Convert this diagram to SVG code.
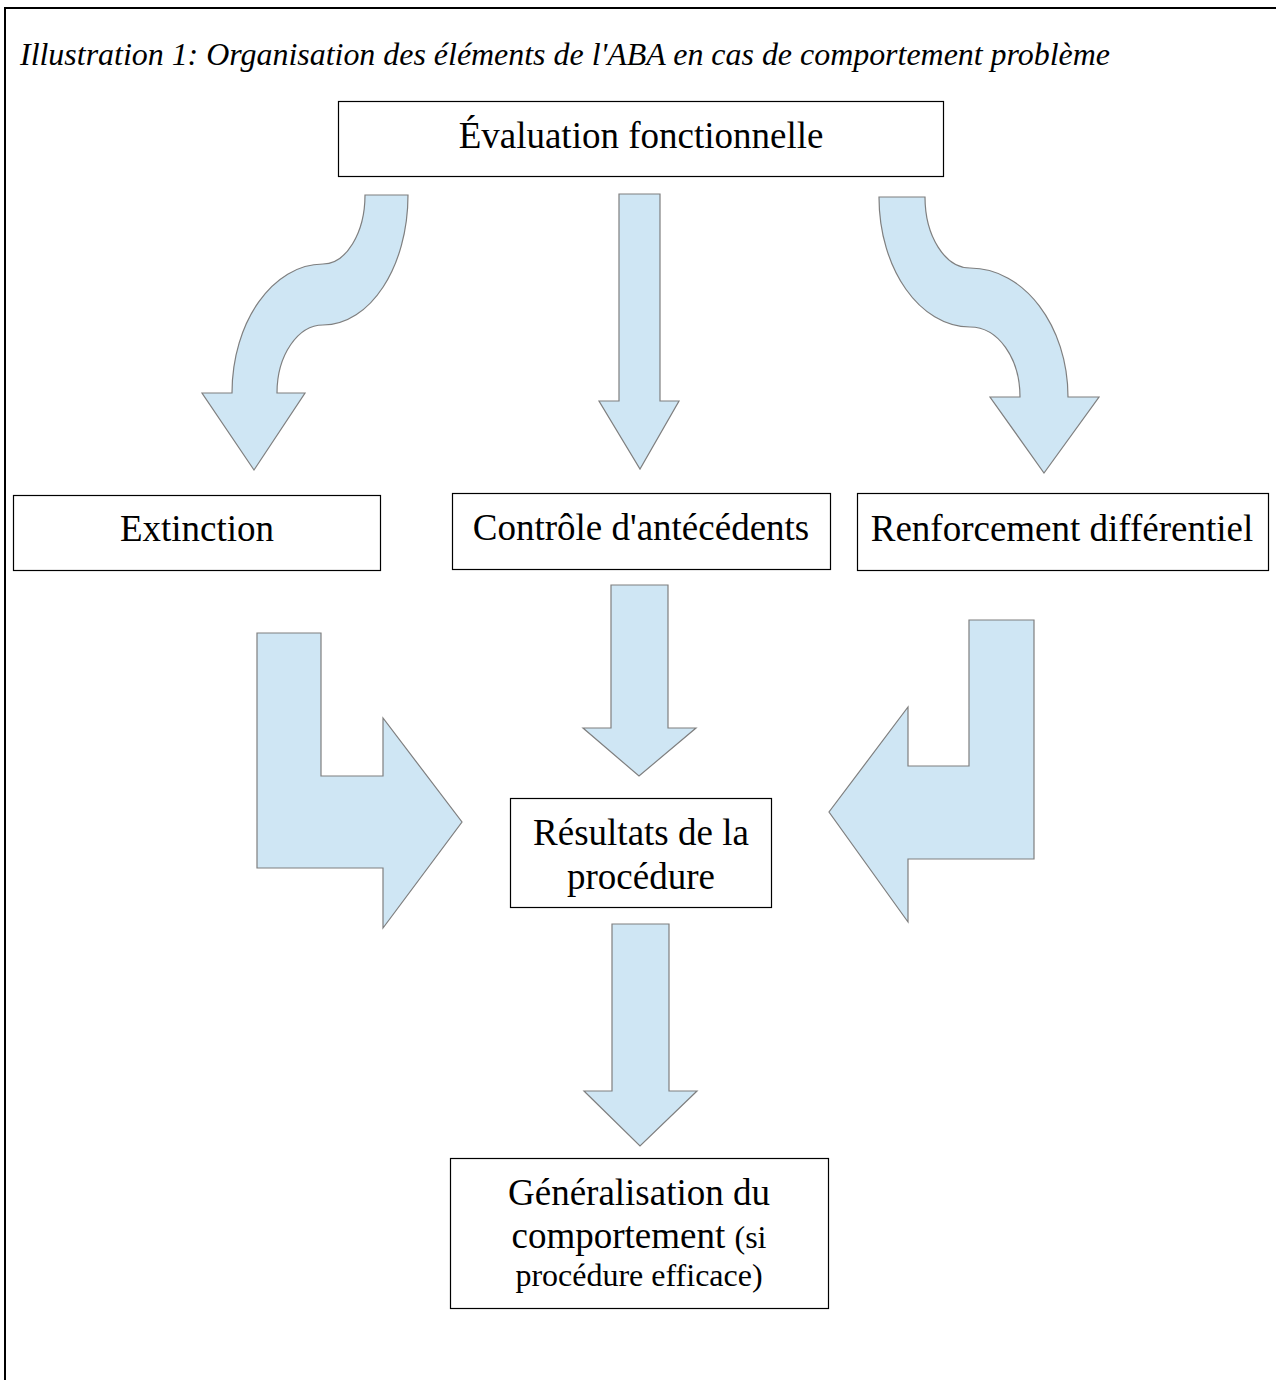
<svg xmlns="http://www.w3.org/2000/svg" width="1276" height="1380" viewBox="0 0 1276 1380">
<style>
.box{fill:#fff;stroke:#000;stroke-width:1.2}
.arrow{fill:#cfe6f4;stroke:#7f7f7f;stroke-width:1.2;stroke-linejoin:miter}
.t{font-family:"Liberation Serif","Times New Roman",serif;font-size:37px;fill:#000;text-anchor:middle}
.s{font-size:32px}
.title{font-family:"Liberation Serif","Times New Roman",serif;font-style:italic;font-size:32px;fill:#000}
</style>
<rect width="1276" height="1380" fill="#fff"/>
<path d="M5,1380 L5,8 L1276,8" fill="none" stroke="#000" stroke-width="2"/>
<text class="title" x="20" y="65" textLength="1090" lengthAdjust="spacingAndGlyphs">Illustration 1: Organisation des éléments de l'ABA en cas de comportement problème</text>

<g id="connectors">
<path class="arrow" d="M365,195 L408,195 C408,267 370,325 323,325 C298,325 277,355 277,393 L305,393 L254,470 L202,393 L232,393 C232,322 273,264 323,264 C346,264 365,233 365,195 Z"/>
<path class="arrow" d="M619,194 L660,194 L660,401 L679,401 L640,469 L599,401 L619,401 Z"/>
<path class="arrow" d="M879,197 L925,197 C925,236 945,268 970,268 C1024,268 1068,326 1068,397 L1099,397 L1044,473 L990,397 L1020,397 C1020,358 998,327 970,327 C920,327 879,269 879,197 Z"/>
<path class="arrow" d="M257,633 L321,633 L321,776 L383,776 L383,718 L462,822 L383,928 L383,868 L257,868 Z"/>
<path class="arrow" d="M611,585 L668,585 L668,728 L696,728 L639,776 L583,728 L611,728 Z"/>
<path class="arrow" d="M969,620 L1034,620 L1034,859 L908,859 L908,922 L829,812 L908,707 L908,766 L969,766 Z"/>
<path class="arrow" d="M612,924 L669,924 L669,1091 L697,1091 L640,1146 L584,1091 L612,1091 Z"/>
</g>

<g id="evaluation">
<rect class="box" x="338.5" y="101.5" width="605" height="75"/>
<text class="t" x="641" y="148">Évaluation fonctionnelle</text>
</g>
<g id="extinction">
<rect class="box" x="13.5" y="495.5" width="367" height="75"/>
<text class="t" x="197" y="541">Extinction</text>
</g>
<g id="controle">
<rect class="box" x="452.5" y="493.5" width="378" height="76"/>
<text class="t" x="641" y="540">Contrôle d'antécédents</text>
</g>
<g id="renforcement">
<rect class="box" x="857.5" y="493.5" width="411" height="77"/>
<text class="t" x="1062" y="541">Renforcement différentiel</text>
</g>
<g id="resultats">
<rect class="box" x="510.5" y="798.5" width="261" height="109"/>
<text class="t" x="641" y="845">Résultats de la</text>
<text class="t" x="641" y="889">procédure</text>
</g>
<g id="generalisation">
<rect class="box" x="450.5" y="1158.5" width="378" height="150"/>
<text class="t" x="639" y="1205">Généralisation du</text>
<text class="t" x="639" y="1248">comportement <tspan class="s">(si</tspan></text>
<text class="t s" x="639" y="1286">procédure efficace)</text>
</g>
</svg>
